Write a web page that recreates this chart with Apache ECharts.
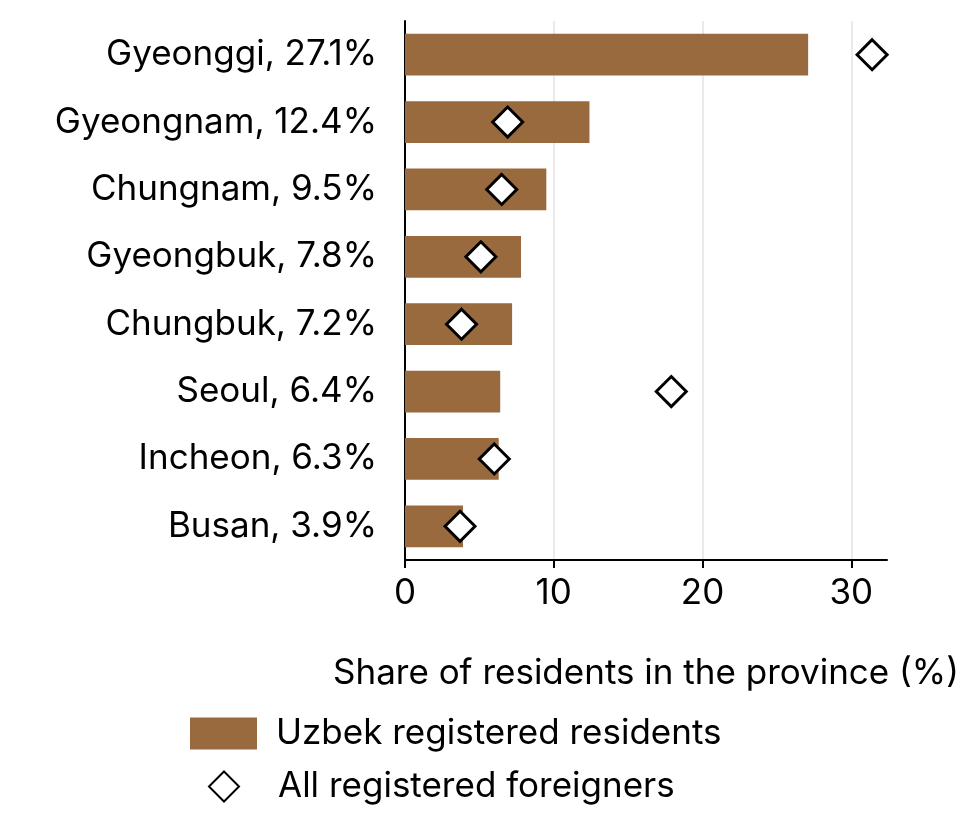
<!DOCTYPE html><html><head><meta charset="utf-8"><script src="https://cdn.jsdelivr.net/npm/echarts@6/dist/echarts.min.js"></script></head><body style="margin:0"><div id="c" style="width:962px;height:819px"></div><script>
const categories=["Gyeonggi, 27.1%","Gyeongnam, 12.4%","Chungnam, 9.5%","Gyeongbuk, 7.8%","Chungbuk, 7.2%","Seoul, 6.4%","Incheon, 6.3%","Busan, 3.9%"];
const uzbek=[27.1,12.4,9.5,7.8,7.2,6.4,6.3,3.9];
const allForeigners=[31.4,6.9,6.5,5.1,3.8,17.9,6.0,3.7];
const xTicks=[0,10,20,30];
const F="Inter, 'Noto Sans', sans-serif";
const ch=echarts.init(document.getElementById('c'));
ch.setOption({
 textStyle:{fontFamily:F},
 grid:{left:405,right:14,top:21,height:539},
 xAxis:{type:'value',min:0,max:32.4,interval:10,
  name:'Share of residents in the province (%)',nameLocation:'middle',nameGap:96,
  nameTextStyle:{fontSize:35,color:'#000',fontFamily:F},
  axisLine:{show:true,lineStyle:{color:'#000',width:2}},
  axisTick:{show:true,length:8,lineStyle:{color:'#000',width:2},customValues:xTicks},
  axisLabel:{fontSize:35,color:'#000',margin:16,fontFamily:F,customValues:xTicks},
  splitLine:{show:true,lineStyle:{color:'#e3e3e3',width:1.5}}},
 yAxis:{type:'category',data:categories,inverse:true,
  axisLine:{lineStyle:{color:'#000',width:2}},
  axisTick:{alignWithLabel:true,length:8,lineStyle:{color:'#000',width:2}},
  axisLabel:{fontSize:35,color:'#000',margin:28,fontFamily:F}},
 legend:[{data:[{name:'Uzbek registered residents',icon:'rect'}],orient:'vertical',left:185,top:711,itemWidth:67,itemHeight:32,
   textStyle:{fontSize:35,color:'#000',fontFamily:F,padding:[0,0,0,14]}},
  {data:[{name:'All registered foreigners',icon:'diamond'}],left:203,top:764,itemWidth:30,itemHeight:30,
   textStyle:{fontSize:35,color:'#000',fontFamily:F,padding:[0,0,0,34]}}],
 series:[{name:'Uzbek registered residents',type:'bar',data:uzbek,barWidth:'62%',itemStyle:{color:'#996a3e'}},
  {name:'All registered foreigners',type:'scatter',data:allForeigners,symbol:'diamond',symbolSize:[30,30],
   itemStyle:{color:'#fff',borderColor:'#000',borderWidth:3,opacity:1},z:5}]
});
</script></body></html>
